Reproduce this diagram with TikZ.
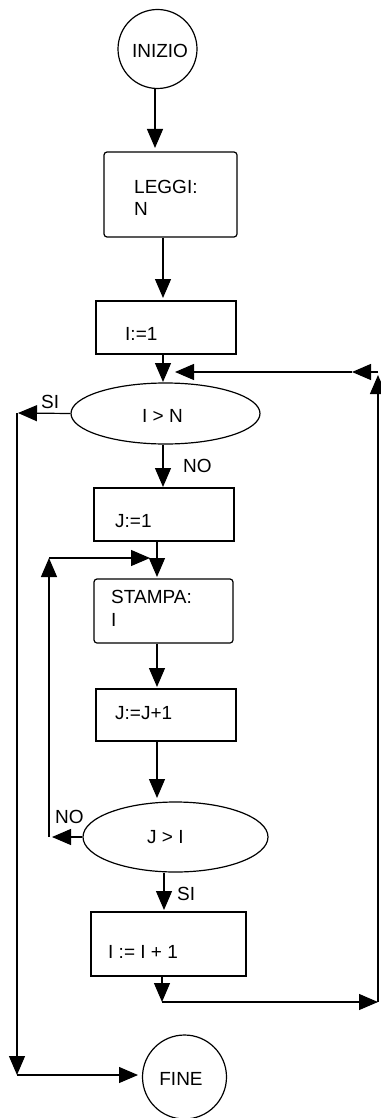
\documentclass[tikz,border=0pt]{standalone}
\usepackage{fontspec}
\setmainfont{Liberation Sans}
\usetikzlibrary{arrows.meta,shapes.geometric}
\tikzset{
  box/.style={draw, line width=1.2pt, inner sep=0pt},
  rbox/.style={box, rounded corners=3pt},
  oval/.style={draw, line width=1.2pt, ellipse, inner sep=0pt},
  term/.style={draw, line width=1.2pt, circle, inner sep=0pt},
  seg/.style={line width=1.2pt, -{Triangle[length=19pt,width=16pt]}},
  plain/.style={line width=1.2pt},
  txt/.style={anchor=base west, inner sep=0pt, font=\fontsize{19}{22}\selectfont},
}
\begin{document}
\begin{tikzpicture}[x=1pt,y=-1pt]
\useasboundingbox (0,0) rectangle (380,1118);
% nodes
\node[term, minimum size=79pt] (inizio) at (157.5,49) {};
\node[txt, anchor=base] (tinizio) at (160,58) {INIZIO};
\node[rbox, minimum width=133pt, minimum height=85pt] (leggi) at (170.5,194.5) {};
\node[txt] (tleggi) at (134,193.5) {LEGGI:};
\node[txt] (tn) at (134,215) {N};
\node[box, minimum width=140pt, minimum height=53pt] (i1) at (166,327.5) {};
\node[txt] (ti1) at (125,340) {I:=1};
\node[oval, minimum width=189pt, minimum height=61pt] (e1) at (165.5,413.5) {};
\node[txt] (te1) at (142,422) {I > N};
\node[box, minimum width=140pt, minimum height=53pt] (j1) at (164,514.5) {};
\node[txt] (tj1) at (115,527) {J:=1};
\node[rbox, minimum width=139pt, minimum height=64pt] (stampa) at (163.5,611) {};
\node[txt] (tstampa) at (111,603) {STAMPA:};
\node[txt] (ti) at (111,626) {I};
\node[box, minimum width=140pt, minimum height=52pt] (jj) at (166,715) {};
\node[txt] (tjj) at (115,719) {J:=J+1};
\node[oval, minimum width=185pt, minimum height=70pt] (e2) at (175.5,837) {};
\node[txt] (te2) at (147,843) {J > I};
\node[box, minimum width=155pt, minimum height=64pt] (ii) at (168.5,944) {};
\node[txt] (tii) at (108,958) {I := I + 1};
\node[term, minimum size=84pt] (fine) at (184.5,1077) {};
\node[txt, anchor=base] (tfine) at (181,1085) {FINE};
% labels
\node[txt] (lsi1) at (41,408) {SI};
\node[txt] (lno1) at (183,472) {NO};
\node[txt] (lno2) at (55,823) {NO};
\node[txt] (lsi2) at (177,900) {SI};
% coordinates
\coordinate (t1) at (155,148);
\coordinate (t2) at (163,298);
\coordinate (t3) at (163,382);
\coordinate (t4) at (18,413);
\coordinate (c4) at (17,413);
\coordinate (t5) at (17,1075);
\coordinate (t6) at (138,1075);
\coordinate (t7) at (163,487);
\coordinate (t8) at (157,577);
\coordinate (t9) at (157,687);
\coordinate (t10) at (157,798);
\coordinate (t11) at (52,837);
\coordinate (c11) at (49,837);
\coordinate (t12) at (49,558);
\coordinate (t13) at (150,558);
\coordinate (t14) at (164,910);
\coordinate (t15) at (162,1002);
\coordinate (t16) at (378,1002);
\coordinate (t17) at (378,375);
\coordinate (c17) at (378,372);
\coordinate (t18) at (352,372);
\coordinate (t19) at (175,372);
% connectors
\draw[seg] (inizio.south -| t1) -- (t1);
\draw[seg] (leggi.south -| t2) -- (t2);
\draw[seg] (i1.south -| t3) -- (t3);
\draw[seg] (e1.west) -- (t4);
\draw[seg] (c4) -- (t5);
\draw[seg] (t5) -- (t6);
\draw[seg] (e1.south -| t7) -- (t7);
\draw[seg] (j1.south -| t8) -- (t8);
\draw[seg] (stampa.south -| t9) -- (t9);
\draw[seg] (jj.south -| t10) -- (t10);
\draw[seg] (e2.west) -- (t11);
\draw[seg] (c11) -- (t12);
\draw[seg] (t12) -- (t13);
\draw[seg] (e2.south -| t14) -- (t14);
\draw[seg] (ii.south -| t15) -- (t15);
\draw[seg] (t15) -- (t16);
\draw[seg] (t16) -- (t17);
\draw[seg] (c17) -- (t18);
\draw[seg] (t18) -- (t19);
\end{tikzpicture}
\end{document}
